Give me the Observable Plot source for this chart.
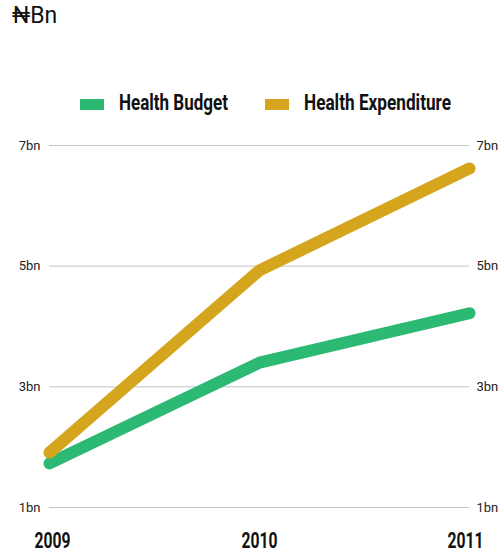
<!DOCTYPE html>
<html>
<head>
<meta charset="utf-8">
<script src="https://cdn.jsdelivr.net/npm/d3@7"></script>
<script src="https://cdn.jsdelivr.net/npm/@observablehq/plot@0.6"></script>
<style>
  html, body { margin: 0; padding: 0; background: #fff; }
  #wrap { width: 500px; height: 557px; position: relative; overflow: hidden; }
  #title { position: absolute; left: 12px; top: 2px; font-family: "Roboto", "Noto Sans", sans-serif; font-size: 23px; color: #111; }
  #legend { position: absolute; left: 0; top: 92px; width: 500px; height: 24px; font-family: "Roboto", sans-serif; font-weight: bold; font-size: 22px; color: #111; }
  .item { position: absolute; top: 0; height: 24px; }
  .sw { position: absolute; left: 0; top: 7px; width: 24px; height: 11px; }
  .lt { position: absolute; top: -1px; white-space: nowrap; transform-origin: 0 50%; display: inline-block; line-height: 24px; }
  #chart { position: absolute; left: 0; top: 120px; }
</style>
</head>
<body>
<div id="wrap">
  <div id="title">₦Bn</div>
  <div id="legend"></div>
  <div id="chart"></div>
</div>
<script>
const years = [2009, 2010, 2011];
const seriesNames = ["Health Budget", "Health Expenditure"];
const healthBudget = [1.73, 3.40, 4.22];
const healthExpenditure = [1.91, 4.93, 6.62];
const yTicks = [1, 3, 5, 7];
const colors = ["#2cb974", "#d4a51d"];

const data = [];
years.forEach((y, i) => {
  data.push({year: y, value: healthBudget[i], series: seriesNames[0]});
});
years.forEach((y, i) => {
  data.push({year: y, value: healthExpenditure[i], series: seriesNames[1]});
});

// legend
const legend = document.getElementById("legend");
const legendX = [80, 265];
const legendTextW = [109, 147];
seriesNames.forEach((name, i) => {
  const it = document.createElement("div");
  it.className = "item";
  it.style.left = legendX[i] + "px";
  const sw = document.createElement("div");
  sw.className = "sw";
  sw.style.background = colors[i];
  const t = document.createElement("span");
  t.className = "lt";
  t.style.left = "39px";
  t.textContent = name;
  it.appendChild(sw); it.appendChild(t);
  legend.appendChild(it);
  const w = t.getBoundingClientRect().width;
  t.style.transform = `scaleX(${legendTextW[i] / w})`;
});

const fmt = d => d + "bn";
const chart = Plot.plot({
  width: 500,
  height: 437,
  marginLeft: 49,
  marginRight: 31,
  marginTop: 25,
  marginBottom: 50,
  style: {fontFamily: "Roboto, 'Noto Sans', sans-serif", background: "#fff"},
  x: {type: "linear", domain: [2009, 2011]},
  y: {domain: [1, 7]},
  color: {domain: seriesNames, range: colors},
  marks: [
    Plot.ruleY(yTicks, {stroke: "#c4c4c4", strokeWidth: 1}),
    Plot.axisY(yTicks, {anchor: "left", tickSize: 0, tickPadding: 9, tickFormat: fmt, fontSize: 13, fill: "#222", label: null}),
    Plot.axisY(yTicks, {anchor: "right", tickSize: 0, tickPadding: 7, tickFormat: fmt, fontSize: 13, fill: "#222", label: null}),
    Plot.axisX(years, {tickSize: 0, tickPadding: 25, tickFormat: d => String(d), fontSize: 22, fontWeight: "bold", fill: "#111", label: null}),
    Plot.line(data, {x: "year", y: "value", z: "series", stroke: "series", strokeWidth: 12, strokeLinecap: "round", strokeLinejoin: "round"})
  ]
});
document.getElementById("chart").appendChild(chart);
const yearDx = [3, 0, -4];
chart.querySelectorAll('[aria-label="x-axis tick label"] text').forEach((t, i) => {
  t.setAttribute("textLength", 36);
  t.setAttribute("lengthAdjust", "spacingAndGlyphs");
  t.setAttribute("dx", yearDx[i] || 0);
});
</script>
</body>
</html>
